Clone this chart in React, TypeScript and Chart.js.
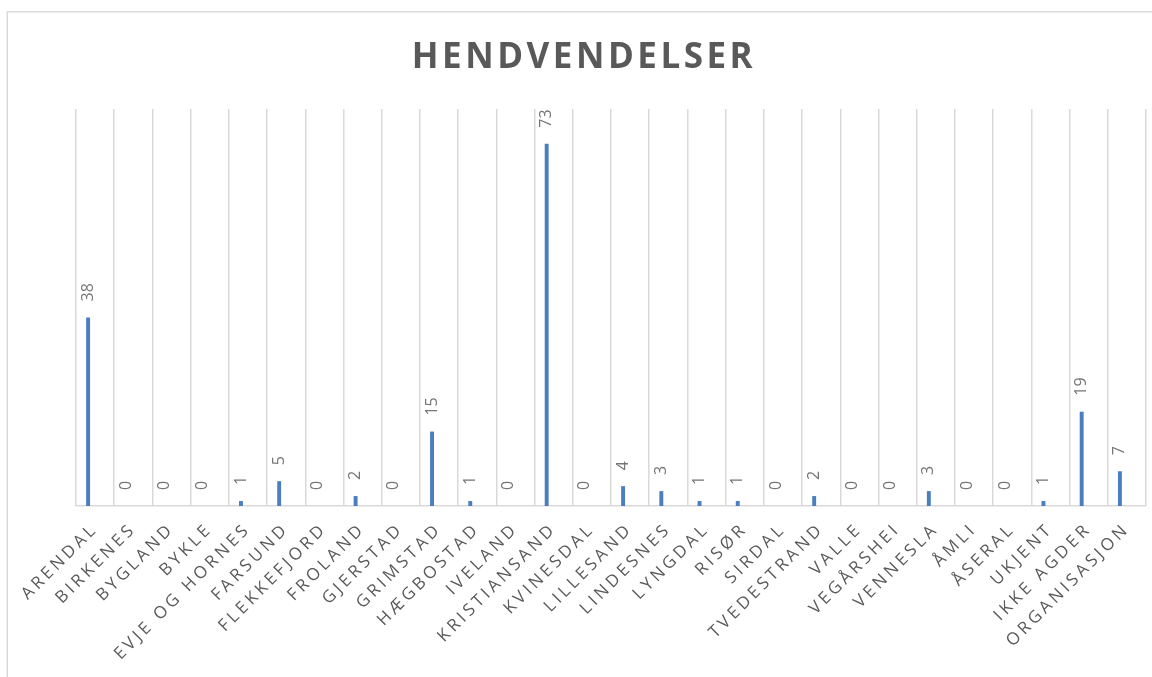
import React, { useEffect, useRef } from 'react';
import { Chart, registerables } from 'chart.js';

Chart.register(...registerables);

const chartTitle = 'HENDVENDELSER';
const categories = [
  'ARENDAL', 'BIRKENES', 'BYGLAND', 'BYKLE', 'EVJE OG HORNES', 'FARSUND', 'FLEKKEFJORD',
  'FROLAND', 'GJERSTAD', 'GRIMSTAD', 'HÆGBOSTAD', 'IVELAND', 'KRISTIANSAND', 'KVINESDAL',
  'LILLESAND', 'LINDESNES', 'LYNGDAL', 'RISØR', 'SIRDAL', 'TVEDESTRAND', 'VALLE',
  'VEGÅRSHEI', 'VENNESLA', 'ÅMLI', 'ÅSERAL', 'UKJENT', 'IKKE AGDER', 'ORGANISASJON',
];
const values = [38, 0, 0, 0, 1, 5, 0, 2, 0, 15, 1, 0, 73, 0, 4, 3, 1, 1, 0, 2, 0, 0, 3, 0, 0, 1, 19, 7];
const emptySeries: number[] = [];
const yMin = 0;
const yMax = 80;

const W = 1152;
const H = 677;

const decorPlugin = {
  id: 'decor',
  beforeDraw(chart: any) {
    const ctx = chart.ctx as CanvasRenderingContext2D;
    ctx.save();
    ctx.fillStyle = '#ffffff';
    ctx.fillRect(0, 0, W, H);
    ctx.strokeStyle = '#d9d9d9';
    ctx.lineWidth = 1.5;
    ctx.beginPath();
    ctx.moveTo(7.25, H);
    ctx.lineTo(7.25, 11.75);
    ctx.lineTo(W, 11.75);
    ctx.stroke();
    (ctx as any).letterSpacing = '3.5px';
    ctx.font = 'bold 35px "Open Sans"';
    ctx.fillStyle = '#595959';
    ctx.textAlign = 'center';
    ctx.textBaseline = 'middle';
    ctx.fillText(chartTitle, 584, 58);
    ctx.restore();
    (ctx as any).letterSpacing = '3.5px';
  },
  afterDatasetsDraw(chart: any) {
    const ctx = chart.ctx as CanvasRenderingContext2D;
    const meta = chart.getDatasetMeta(0);
    ctx.save();
    (ctx as any).letterSpacing = '0px';
    ctx.font = '16px "Open Sans"';
    ctx.fillStyle = '#757575';
    ctx.textAlign = 'left';
    ctx.textBaseline = 'middle';
    meta.data.forEach((el: any, i: number) => {
      ctx.save();
      ctx.translate(el.x, el.y - 16);
      ctx.rotate(-Math.PI / 2);
      ctx.fillText(String(values[i]), 0, 0);
      ctx.restore();
    });
    ctx.restore();
  },
};

export default function App() {
  const ref = useRef<HTMLCanvasElement>(null);
  useEffect(() => {
    if (!ref.current) return;
    const chart = new Chart(ref.current, {
      type: 'bar',
      data: {
        labels: categories,
        datasets: [
          {
            data: values,
            backgroundColor: '#4a7ebf',
            borderWidth: 0,
            categoryPercentage: 0.733,
            barPercentage: 0.28,
          },
          {
            data: emptySeries,
            backgroundColor: '#ed7d31',
            borderWidth: 0,
            categoryPercentage: 0.733,
            barPercentage: 0.28,
          },
        ],
      },
      options: {
        animation: false,
        responsive: false,
        devicePixelRatio: 1,
        layout: { padding: { left: 76, right: 6, top: 109, bottom: 0 } },
        plugins: {
          legend: { display: false },
          title: { display: false },
          tooltip: { enabled: false },
        },
        scales: {
          x: {
            grid: {
              display: true,
              color: '#d9d9d9',
              lineWidth: 1.5,
              drawTicks: false,
              offset: true,
            },
            border: { display: true, color: '#d9d9d9', width: 1.5 },
            ticks: {
              autoSkip: false,
              maxRotation: 45,
              minRotation: 45,
              padding: 13,
              color: '#595959',
              font: { family: '"Open Sans"', size: 17 },
            },
            afterFit(scale: any) {
              scale.height = H - 506;
              scale.paddingLeft = 0;
              scale.paddingRight = 0;
            },
          },
          y: {
            display: false,
            min: yMin,
            max: yMax,
          },
        },
      },
      plugins: [decorPlugin],
    });
    return () => chart.destroy();
  }, []);
  return (
    <div style={{ position: 'absolute', left: 0, top: 0, width: W, height: H, background: '#fff' }}>
      <canvas ref={ref} width={W} height={H} style={{ width: W, height: H, display: 'block' }} />
    </div>
  );
}
